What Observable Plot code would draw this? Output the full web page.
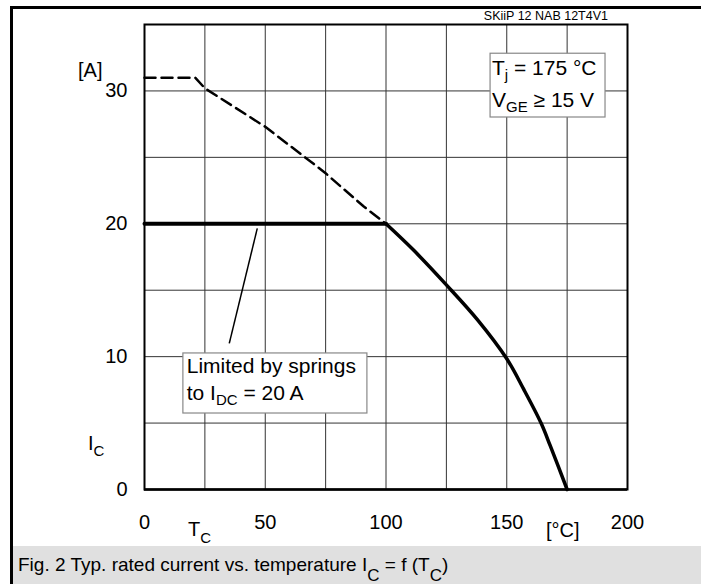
<!DOCTYPE html>
<html><head><meta charset="utf-8">
<script src="https://cdn.jsdelivr.net/npm/d3@7"></script>
<script src="https://cdn.jsdelivr.net/npm/@observablehq/plot@0.6"></script>
<style>
body{margin:0;background:#fff;}
#wrap{position:relative;width:701px;height:584px;overflow:hidden;font-family:"Liberation Sans",Arial,sans-serif;background:#fff;}
#chart{position:absolute;left:0;top:0;}
#border{position:absolute;left:10px;top:6px;width:700px;height:600px;border-left:3px solid #000;border-top:3px solid #000;pointer-events:none;}
#caption{position:absolute;left:13px;top:546px;width:688px;height:38px;background:#e0e0e0;font-size:19px;line-height:38px;white-space:nowrap;color:#000;}
#caption .t{position:absolute;left:5px;top:0;}
#caption .s{font-size:17px;position:relative;top:10px;}
</style>
</head><body>
<div id="wrap"><div id="chart"></div><div id="border"></div>
<div id="caption"><span class="t">Fig. 2 Typ. rated current vs. temperature I<span class="s">C</span> = f (T<span class="s">C</span>)</span></div>
</div>
<script>
// ---- data ----
const xTicks = [0, 50, 100, 150, 200];
const yTicks = [0, 10, 20, 30];
const xGrid = [0, 25, 50, 75, 100, 125, 150, 175, 200];
const yGrid = [0, 5, 10, 15, 20, 25, 30, 35];

// dashed: rated current without spring limit
const dashT = [0, 21, 25, 50, 70.8, 75, 90.8, 100];
const dashI = [31, 31, 30.2, 27.3, 24.4, 23.8, 21.3, 20];

// spring-limited flat part
const limitT = [0, 100];
const limitI = [20, 20];

// solid derating curve
const curveT = [100, 111.5, 125, 138, 150, 157, 164.2, 168, 175];
const curveI = [20, 18.0, 15.4, 12.75, 9.84, 7.55, 5.0, 3.3, 0];

// annotation boxes and leader (data coordinates)
const noteBox = [{x1: 16.1, x2: 92.3, y1: 5.72, y2: 10.24}];
const condBox = [{x1: 143.3, x2: 190.9, y1: 28.0, y2: 32.8}];
const leader = [{x1: 35.1, y1: 11.0, x2: 46.7, y2: 19.65}];

const dashed = dashT.map((t, i) => ({t, i: dashI[i]}));
const limit = limitT.map((t, i) => ({t, i: limitI[i]}));
const curve = curveT.map((t, i) => ({t, i: curveI[i]}));

const plot = Plot.plot({
  width: 701,
  height: 546,
  marginLeft: 144,
  marginRight: 74,
  marginTop: 24,
  marginBottom: 57,
  style: {fontFamily: "'Liberation Sans', Arial, sans-serif", fontSize: "20px", background: "transparent", color: "#000", overflow: "visible"},
  x: {domain: [0, 200]},
  y: {domain: [0, 35]},
  marks: [
    Plot.ruleX(xGrid, {stroke: "#333", strokeWidth: 1}),
    Plot.ruleY(yGrid, {stroke: "#333", strokeWidth: 1}),
    Plot.frame({stroke: "#000", strokeWidth: 2}),
    Plot.ruleY([0], {stroke: "#000", strokeWidth: 2.5}),
    Plot.axisX(xTicks, {tickSize: 0, tickPadding: 25, label: null, fontSize: 20, fill: "#000"}),
    Plot.axisY(yTicks, {tickSize: 0, tickPadding: 17, label: null, fontSize: 20, fill: "#000"}),
    Plot.line(dashed, {x: "t", y: "i", stroke: "#000", strokeWidth: 2.5, strokeDasharray: "11,6"}),
    Plot.line(limit, {x: "t", y: "i", stroke: "#000", strokeWidth: 4}),
    Plot.line(curve, {x: "t", y: "i", stroke: "#000", strokeWidth: 3.5, curve: "catmull-rom"}),
    Plot.link(leader, {x1: "x1", y1: "y1", x2: "x2", y2: "y2", stroke: "#000", strokeWidth: 1.5}),
    Plot.rect(noteBox, {x1: "x1", x2: "x2", y1: "y1", y2: "y2", fill: "#fff", stroke: "#888", strokeWidth: 1.2}),
    Plot.rect(condBox, {x1: "x1", x2: "x2", y1: "y1", y2: "y2", fill: "#fff", stroke: "#888", strokeWidth: 1.2})
  ]
});
document.getElementById("chart").appendChild(plot);

const sx = plot.scale("x"), sy = plot.scale("y");
const svg = d3.select(plot);
function rich(px, py, parts, size, opts = {}) {
  const t = svg.append("text").attr("x", px).attr("y", py)
    .attr("font-size", size).attr("fill", "#000")
    .attr("text-anchor", opts.anchor || "start");
  const subSize = opts.subSize || size * 0.75;
  const shift = opts.shift || size * 0.3;
  let cur = 0;
  parts.forEach(p => {
    const isSub = Array.isArray(p);
    const s = isSub ? p[0] : p;
    const want = isSub ? shift : 0;
    const ts = t.append("tspan").text(s).attr("dy", want - cur);
    if (isSub) ts.attr("font-size", subSize);
    cur = want;
  });
  return t;
}

// in-plot annotations (data coordinates)
rich(sx.apply(144.1), sy.apply(31.17), ["T", ["j"], " = 175 °C"], 21, {subSize: 15, shift: 5});
rich(sx.apply(144.1), sy.apply(28.77), ["V", ["GE"], " ≥ 15 V"], 21, {subSize: 15, shift: 5});
rich(sx.apply(17.7), sy.apply(8.73), ["Limited by springs"], 21);
rich(sx.apply(17.7), sy.apply(6.70), ["to I", ["DC"], " = 20 A"], 21, {subSize: 15, shift: 5});

// axis titles
rich(78, 77, ["[A]"], 20);
rich(88, 450, ["I", ["C"]], 20, {subSize: 15, shift: 6});
rich(188, 536, ["T", ["C"]], 20, {subSize: 15, shift: 7});
rich(546, 537, ["[°C]"], 20);
rich(608, 20, ["SKiiP 12 NAB 12T4V1"], 12.5, {anchor: "end"});
</script>
</body></html>
